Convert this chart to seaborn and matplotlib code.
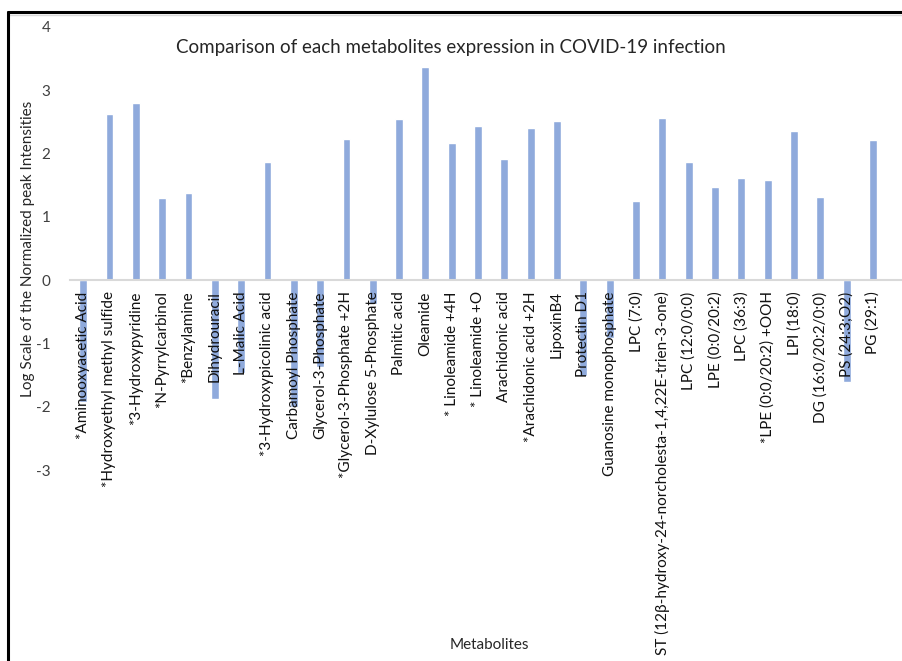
import matplotlib
matplotlib.use("Agg")
import matplotlib.pyplot as plt
from matplotlib.lines import Line2D
import seaborn as sns
import pandas as pd

metabolites = [
    "*Aminooxyacetic Acid",
    "*Hydroxyethyl methyl sulfide",
    "*3-Hydroxypyridine",
    "*N-Pyrrylcarbinol",
    "*Benzylamine",
    "Dihydrouracil",
    "L-Malic Acid",
    "*3-Hydroxypicolinic acid",
    "Carbamoyl Phosphate",
    "Glycerol-3-Phosphate",
    "*Glycerol-3-Phosphate +2H",
    "D-Xylulose 5-Phosphate",
    "Palmitic acid",
    "Oleamide",
    "* Linoleamide +4H",
    "* Linoleamide +O",
    "Arachidonic acid",
    "*Arachidonic acid +2H",
    "LipoxinB4",
    "Protectin D1",
    "Guanosine monophosphate",
    "LPC (7:0)",
    "ST (12β-hydroxy-24-norcholesta-1,4,22E-trien-3-one)",
    "LPC (12:0/0:0)",
    "LPE (0:0/20:2)",
    "LPC (36:3)",
    "*LPE (0:0/20:2) +OOH",
    "LPI (18:0)",
    "DG (16:0/20:2/0:0)",
    "PS (24:3;O2)",
    "PG (29:1)",
]

log_intensity = [
    -1.93, 2.63, 2.80, 1.30, 1.38, -1.88, -1.47, 1.87, -2.00, -1.37,
    2.23, -0.38, 2.55, 3.37, 2.16, 2.43, 1.92, 2.40, 2.51, -1.52,
    -0.92, 1.25, 2.56, 1.86, 1.47, 1.61, 1.58, 2.36, 1.32, -1.61, 2.21,
]

y_ticks = [-3, -2, -1, 0, 1, 2, 3, 4]

df = pd.DataFrame({"Metabolite": metabolites, "Value": log_intensity})

sns.set_theme(style="white")
plt.rcParams["font.family"] = ["Lato", "DejaVu Sans"]

W, H = 902, 661
fig = plt.figure(figsize=(W / 100, H / 100), dpi=100)
fig.patch.set_facecolor("white")

# plot area: x from 70 px to right edge, y from +4 (27 px) to -3 (470 px)
ax = fig.add_axes([70 / W, 1 - 470 / H, (W - 70) / W, (470 - 27) / H])

sns.barplot(data=df, x="Metabolite", y="Value", color="#8FAADC",
            saturation=1, width=0.3, ax=ax)

# category labels sit on top of the bars
ax.set_axisbelow(False)

ax.set_xlim(-0.5, 31.1)
ax.set_ylim(-3, 4)
ax.set_yticks(y_ticks)
ax.set_yticklabels([str(t) for t in y_ticks])
ax.set_xlabel("")
ax.set_ylabel("")

for side in ["top", "right", "left"]:
    ax.spines[side].set_visible(False)
ax.spines["bottom"].set_position(("data", 0))
ax.spines["bottom"].set_color("#d9d9d9")
ax.spines["bottom"].set_linewidth(1.5)

ax.tick_params(axis="x", length=0, pad=8, labelsize=11, labelcolor="#111111",
               labelrotation=90)
ax.tick_params(axis="y", length=0, pad=14, labelsize=11, labelcolor="#404040")
for lbl in ax.get_xticklabels():
    lbl.set_va("top")
    lbl.set_ha("center")

fig.text(451 / W, 1 - 47 / H,
         "Comparison of each metabolites expression in COVID-19 infection",
         ha="center", va="center", fontsize=13.5, color="#262626")
fig.text(28 / W, 1 - 249 / H, "Log Scale of the Normalized peak Intensities",
         ha="center", va="center", rotation=90, fontsize=11, color="#262626")
fig.text(489 / W, 1 - 645 / H, "Metabolites",
         ha="center", va="center", fontsize=11, color="#262626")

# frame around the chart
fig.add_artist(Line2D([8 / W, 1], [1 - 14.5 / H, 1 - 14.5 / H],
                      transform=fig.transFigure, color="#d9d9d9", lw=1))
fig.add_artist(Line2D([8 / W, 1], [1 - 12 / H, 1 - 12 / H],
                      transform=fig.transFigure, color="black", lw=2.2))
fig.add_artist(Line2D([8 / W, 8 / W], [0, 1 - 12 / H],
                      transform=fig.transFigure, color="black", lw=2.2))

fig.savefig("out.png", dpi=100, facecolor="white")
